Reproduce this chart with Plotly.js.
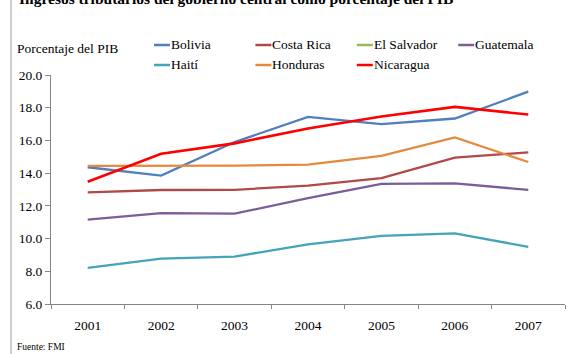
<!DOCTYPE html>
<html>
<head>
<meta charset="utf-8">
<script src="https://cdn.plot.ly/plotly-3.0.1.min.js"></script>
<style>html,body{margin:0;padding:0;background:#fff;}#chart{width:575px;height:354px;}</style>
</head>
<body>
<div id="chart"></div>
<script>
const years = ['2001','2002','2003','2004','2005','2006','2007'];
const names = ['Bolivia','Costa Rica','El Salvador','Guatemala','Haití','Honduras','Nicaragua'];
const colors = ['#4F7FBF','#B04A47','#9BBB59','#7A5D99','#45A3BC','#E4893D','#FF0000'];
const bolivia    = [14.36, 13.85, 15.9, 17.44, 17.0, 17.34, 18.98];
const costaRica  = [12.82, 12.97, 12.98, 13.24, 13.69, 14.95, 15.27];
const elSalvador = [null, null, null, null, null, null, null];
const guatemala  = [11.16, 11.56, 11.52, 12.47, 13.35, 13.37, 12.98];
const haiti      = [8.21, 8.78, 8.9, 9.65, 10.16, 10.32, 9.49];
const honduras   = [14.44, 14.45, 14.46, 14.52, 15.05, 16.18, 14.68];
const nicaragua  = [13.47, 15.19, 15.82, 16.73, 17.46, 18.05, 17.58];
const series = [bolivia, costaRica, elSalvador, guatemala, haiti, honduras, nicaragua];
const yTicks = [6, 8, 10, 12, 14, 16, 18, 20];

const W = 575, H = 354, L = 51, R = 10, T = 75, B = 50;
const pw = W - L - R, ph = H - T - B;
const px = x => (x - L) / pw;
const py = y => (H - B - y) / ph;
const FONT = "'Liberation Serif', 'DejaVu Serif', serif";

const traces = series.map((s, i) => ({
  x: years, y: s, type: 'scatter', mode: 'lines', name: names[i],
  line: {color: colors[i], width: i === 6 ? 2.6 : 2.3},
  showlegend: false, hoverinfo: 'skip'
}));

const shapes = [{
  type: 'line', xref: 'paper', yref: 'paper',
  x0: px(11), x1: px(11), y0: py(0), y1: py(H),
  line: {color: '#cfcfcf', width: 2}
}];
const annotations = [
  {text: '<b>Ingresos tributarios del gobierno central como porcentaje del PIB</b>',
   xref: 'paper', yref: 'paper', x: px(17), y: py(9), xanchor: 'left', yanchor: 'bottom',
   showarrow: false, font: {family: FONT, size: 15.5, color: '#000'}},
  {text: 'Porcentaje del PIB', xref: 'paper', yref: 'paper', x: px(15), y: py(48),
   xanchor: 'left', yanchor: 'middle', showarrow: false, font: {family: FONT, size: 13.5, color: '#000'}},
  {text: 'Fuente: FMI', xref: 'paper', yref: 'paper', x: px(15), y: py(347),
   xanchor: 'left', yanchor: 'middle', showarrow: false, font: {family: FONT, size: 9.5, color: '#000'}}
];
names.forEach((n, i) => {
  const col = i % 4, row = Math.floor(i / 4);
  const x0 = 154 + 101.4 * col, y0 = 45 + 20 * row;
  shapes.push({type: 'line', xref: 'paper', yref: 'paper', x0: px(x0), x1: px(x0 + 16),
    y0: py(y0), y1: py(y0), line: {color: colors[i], width: 2.5}});
  annotations.push({text: n, xref: 'paper', yref: 'paper', x: px(x0 + 15), y: py(y0),
    xanchor: 'left', yanchor: 'middle', showarrow: false,
    font: {family: FONT, size: 13.5, color: '#000'}});
});

const layout = {
  width: W, height: H,
  margin: {l: L, r: R, t: T, b: B, pad: 0},
  paper_bgcolor: '#fff', plot_bgcolor: '#fff',
  showlegend: false,
  font: {family: FONT, size: 13.5, color: '#000'},
  xaxis: {
    type: 'category', range: [-0.5, 6.5], showgrid: false, zeroline: false,
    showline: true, linecolor: '#868686', linewidth: 1,
    ticks: 'outside', tickson: 'boundaries', ticklen: 4, tickcolor: '#868686',
    ticklabelstandoff: 9, tickfont: {family: FONT, size: 13.5, color: '#000'}
  },
  yaxis: {
    range: [6, 20], tickvals: yTicks, tickformat: '.1f', showgrid: false, zeroline: false,
    showline: true, linecolor: '#868686', linewidth: 1,
    ticks: 'outside', ticklen: 5, tickcolor: '#868686',
    tickfont: {family: FONT, size: 13.5, color: '#000'}
  },
  shapes: shapes, annotations: annotations
};
Plotly.newPlot('chart', traces, layout, {displayModeBar: false, staticPlot: true});
</script>
</body>
</html>
